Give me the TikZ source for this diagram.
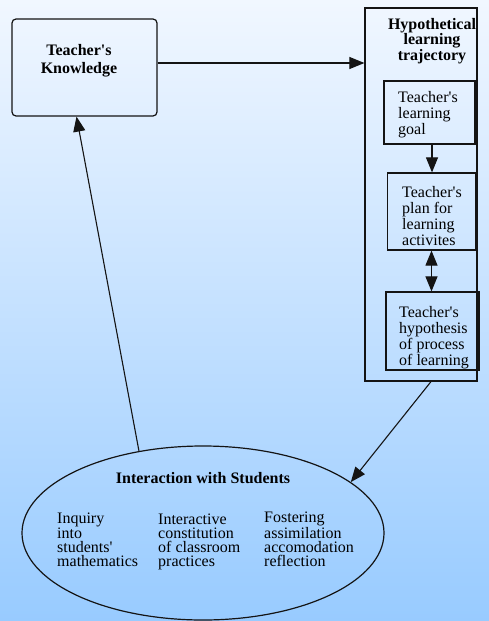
\documentclass[tikz,border=0pt]{standalone}
\usepackage{fontspec}
\setmainfont{Liberation Serif}
\usetikzlibrary{arrows.meta,shapes.geometric,calc}
\definecolor{bgtop}{RGB}{241,247,255}
\definecolor{bgbot}{RGB}{152,203,255}
\definecolor{edge}{RGB}{20,20,20}
\newcommand{\ap}{\textquotesingle}
\tikzset{
  x=1pt,y=-1pt,
  boxline/.style={draw=edge,line width=1.2pt},
  body/.style={font=\fontsize{16}{16}\selectfont,align=left,inner sep=0pt},
  inbox/.style={boxline,rectangle,inner sep=0pt},
  coltext/.style={font=\fontsize{16}{13.8}\selectfont,align=left,inner sep=0pt,anchor=base west},
  arr/.style={draw=edge,line width=1.1pt,-{Triangle[length=15pt,width=12pt]}},
  darr/.style={draw=edge,line width=1.1pt,{Triangle[length=15pt,width=12pt]}-{Triangle[length=15pt,width=12pt]}},
}
\begin{document}
\begin{tikzpicture}
\useasboundingbox (0,0) rectangle (489,621);
\shade[top color=bgtop,bottom color=bgbot] (0,0) rectangle (489,621);

\node[boxline,rounded corners=4pt,minimum width=145pt,minimum height=97pt,inner sep=0pt] (k) at (84.5,67.5) {};
\node[font=\bfseries\fontsize{16}{18.5}\selectfont,align=center,inner sep=0pt,anchor=base] (kt) at (79,73.5) {Teacher\ap s\\Knowledge};

\node[boxline,rectangle,minimum width=112pt,minimum height=373pt,inner sep=0pt] (hlt) at (421,194.5) {};
\node[font=\bfseries\fontsize{16}{15.5}\selectfont,align=center,inner sep=0pt,anchor=base] (hltt) at (432,60) {Hypothetical\\learning\\trajectory};

\node[inbox,minimum width=91pt,minimum height=63pt] (g) at (429.5,112.5) {};
\node[body,anchor=base west] (gt) at (398,134) {Teacher\ap s\\learning\\goal};

\node[inbox,minimum width=88pt,minimum height=77pt] (p) at (431.5,211.5) {};
\node[body,anchor=base west] (pt) at (402,245) {Teacher\ap s\\plan for\\learning\\activites};

\node[inbox,minimum width=93pt,minimum height=78pt] (h) at (432.5,331) {};
\node[body,anchor=base west] (ht) at (399,365) {Teacher\ap s\\hypothesis\\of process\\of learning};

\node[draw=edge,line width=1.2pt,ellipse,minimum width=362pt,minimum height=174pt,inner sep=0pt] (e) at (203,533) {};
\node[font=\bfseries\fontsize{16}{16}\selectfont,inner sep=0pt,anchor=base] (et) at (203,483) {Interaction with Students};
\node[coltext] (c1) at (57,566) {Inquiry\\into\\students\ap\\mathematics};
\node[coltext] (c2) at (158,566) {Interactive\\constitution\\of classroom\\practices};
\node[coltext] (c3) at (264,566) {Fostering\\assimilation\\accomodation\\reflection};

\draw[arr] ([yshift=4.5pt]k.east) -- ([yshift=4.5pt]k.east -| hlt.west);
\draw[arr] ([xshift=2.5pt]g.south) -- ([xshift=2.5pt]g.south |- p.north);
\draw[darr] (p.south) -- (p.south |- h.north);
\draw[arr] ([xshift=10pt]hlt.south) -- (e.19);
\draw[arr] (e.128) -- ([xshift=-8pt]k.south);
\end{tikzpicture}
\end{document}
